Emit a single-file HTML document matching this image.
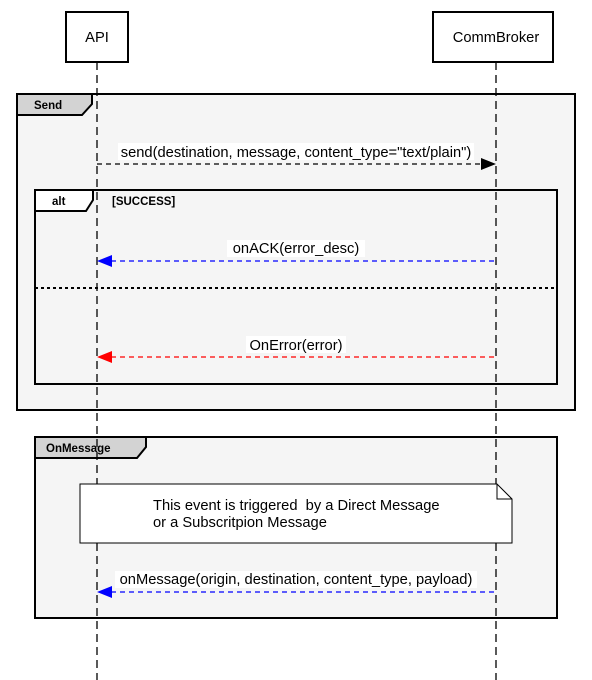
<!DOCTYPE html>
<html><head><meta charset="utf-8"><style>html,body{margin:0;padding:0;background:#fff}svg{display:block}</style></head>
<body>
<svg width="592" height="680" viewBox="0 0 592 680" xmlns="http://www.w3.org/2000/svg" font-family="Liberation Sans, Arial, sans-serif">
<rect width="592" height="680" fill="#fff"/>
<rect x="17" y="94" width="558" height="316" fill="#f5f5f5" stroke="#000" stroke-width="2"/>
<path d="M17 94 H92 V104 L82 115 H17 Z" fill="#d3d3d3" stroke="#000" stroke-width="2"/>
<text x="34" y="109" font-size="11.5" font-weight="bold">Send</text>
<rect x="35" y="190" width="522" height="194" fill="#f5f5f5" stroke="#000" stroke-width="2"/>
<path d="M35 190 H93 V200 L86 211 H35 Z" fill="#fff" stroke="#000" stroke-width="2"/>
<text x="52" y="205" font-size="11.5" font-weight="bold">alt</text>
<text x="112" y="205" font-size="11.5" font-weight="bold">[SUCCESS]</text>
<line x1="35" y1="288" x2="557" y2="288" stroke="#000" stroke-width="2" stroke-dasharray="3,3"/>
<rect x="35" y="437" width="522" height="181" fill="#f5f5f5" stroke="#000" stroke-width="2"/>
<path d="M35 437 H146 V447 L137 458 H35 Z" fill="#d3d3d3" stroke="#000" stroke-width="2"/>
<text x="46" y="452" font-size="11.5" font-weight="bold">OnMessage</text>
<line x1="97" y1="62" x2="97" y2="680" stroke="#000" stroke-width="1.3" stroke-dasharray="8,5"/>
<line x1="496" y1="62" x2="496" y2="680" stroke="#000" stroke-width="1.3" stroke-dasharray="8,5"/>
<rect x="66" y="12" width="62" height="50" fill="#fff" stroke="#000" stroke-width="2"/>
<text x="97" y="42" font-size="14.7" text-anchor="middle">API</text>
<rect x="433" y="12" width="120" height="50" fill="#fff" stroke="#000" stroke-width="2"/>
<text x="496" y="42" font-size="14.7" text-anchor="middle">CommBroker</text>
<rect x="118" y="143" width="356" height="17" fill="#fff"/>
<text x="296" y="157" font-size="14.7" text-anchor="middle">send(destination, message, content_type="text/plain")</text>
<line x1="97" y1="164" x2="482" y2="164" stroke="#000" stroke-width="1.2" stroke-dasharray="5,4"/>
<polygon points="496,164 481,158 481,170" fill="#000"/>
<rect x="227" y="240" width="138" height="17" fill="#fff"/>
<text x="296" y="253" font-size="14.7" text-anchor="middle">onACK(error_desc)</text>
<line x1="111" y1="261" x2="496" y2="261" stroke="#00f" stroke-width="1.2" stroke-dasharray="5,4"/>
<polygon points="97,261 112,255 112,267" fill="#00f"/>
<rect x="246" y="336" width="100" height="17" fill="#fff"/>
<text x="296" y="350" font-size="14.7" text-anchor="middle">OnError(error)</text>
<line x1="111" y1="357" x2="496" y2="357" stroke="#f00" stroke-width="1.2" stroke-dasharray="5,4"/>
<polygon points="97,357 112,351 112,363" fill="#f00"/>
<path d="M80 484 H497 L512 499 V543 H80 Z" fill="#fff" stroke="#000" stroke-width="1"/>
<path d="M497 484 V499 H512" fill="none" stroke="#000" stroke-width="1"/>
<text x="153" y="510" font-size="14.7" xml:space="preserve">This event is triggered  by a Direct Message</text>
<text x="153" y="527" font-size="14.7">or a Subscritpion Message</text>
<rect x="115" y="571" width="362" height="17" fill="#fff"/>
<text x="296" y="584" font-size="14.7" text-anchor="middle">onMessage(origin, destination, content_type, payload)</text>
<line x1="111" y1="592" x2="496" y2="592" stroke="#00f" stroke-width="1.2" stroke-dasharray="5,4"/>
<polygon points="97,592 112,586 112,598" fill="#00f"/>
</svg>
</body></html>
